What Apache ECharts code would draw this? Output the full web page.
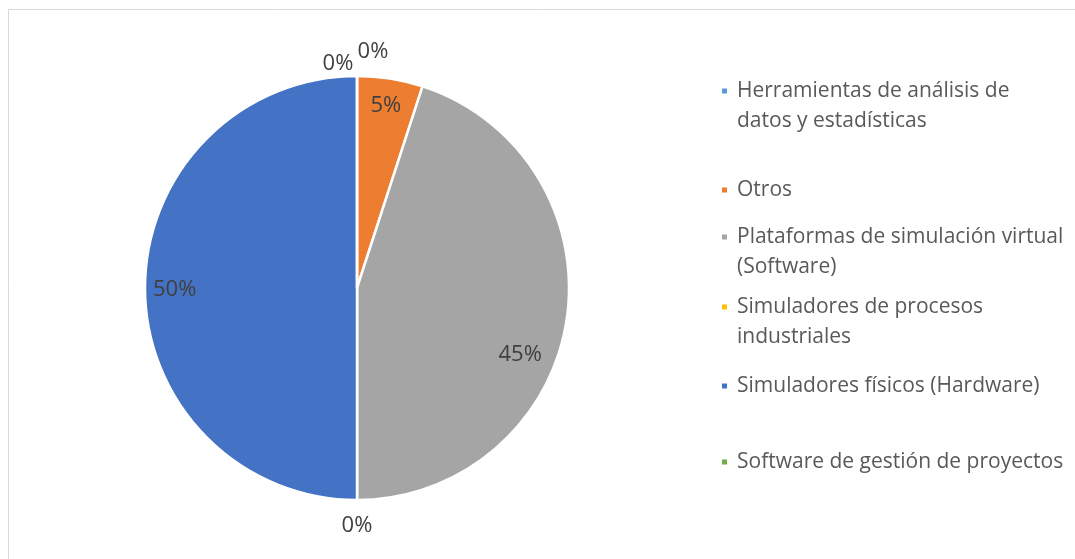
<!DOCTYPE html>
<html>
<head>
<meta charset="utf-8">
<script src="https://cdn.jsdelivr.net/npm/echarts@6/dist/echarts.min.js"></script>
<style>
  html, body { margin: 0; padding: 0; background: #ffffff; }
  #chart { width: 1075px; height: 559px; }
</style>
</head>
<body>
<div id="chart"></div>
<script>
// Herramientas tecnológicas usadas en la formación (porcentaje de respuestas)
const categories = [
  'Herramientas de análisis de\ndatos y estadísticas',
  'Otros',
  'Plataformas de simulación virtual\n(Software)',
  'Simuladores de procesos\nindustriales',
  'Simuladores físicos (Hardware)',
  'Software de gestión de proyectos'
];
const percentages = [0, 5, 45, 0, 50, 0];
const sliceColors = ['#5B9BD5', '#ED7D31', '#A5A5A5', '#FFC000', '#4472C4', '#70AD47'];

// Pie geometry
const CX = 357, CY = 288, R = 212;
const FONT = 'Open Sans, Noto Sans, sans-serif';
const LINE = 30;

// Label placement: radius as fraction of R, angle shift (deg), pixel nudge
const labelPlace = [
  { rf: 1.115, da: 0, dx: 16, dy: 0 },
  { rf: 0.87, da: 0, dx: 0, dy: 0 },
  { rf: 0.83, da: 13, dx: 0, dy: 1 },
  { rf: 1.115, da: 0, dx: 0, dy: 1 },
  { rf: 0.86, da: 0, dx: 0, dy: 2 },
  { rf: 1.06, da: 0, dx: -19, dy: 0 }
];

// Legend rows: vertical centre of each marker
const legendRowY = [91, 190, 237, 307, 386, 462];

const total = percentages.reduce((a, b) => a + b, 0);
const midAngles = [];
let acc = 0;
percentages.forEach(v => {
  midAngles.push((acc + v / 2) / total * 360);
  acc += v;
});

// One legend block per entry; two-line names get a leading blank line so
// the first line sits level with the marker.
const legends = categories.map((name, i) => {
  const lines = name.split('\n').length;
  const h = lines === 2 ? 3 * LINE : LINE;
  return {
    data: [name],
    orient: 'vertical',
    left: 720,
    top: legendRowY[i] - h / 2,
    padding: 0,
    itemWidth: 7,
    itemHeight: 7,
    itemGap: 0,
    icon: 'rect',
    selectedMode: false,
    formatter: n => (n.indexOf('\n') >= 0 ? '\n' + n : n),
    textStyle: {
      fontFamily: FONT,
      fontSize: 21,
      color: '#595959',
      lineHeight: LINE,
      padding: [0, 0, 0, 4]
    }
  };
});

const chart = echarts.init(document.getElementById('chart'), null, { renderer: 'canvas' });
chart.setOption({
  backgroundColor: '#ffffff',
  animation: false,
  color: sliceColors,
  graphic: [{
    type: 'rect',
    shape: { x: 8.5, y: 9.5, width: 1200, height: 700 },
    style: { fill: 'none', stroke: '#d9d9d9', lineWidth: 1 },
    silent: true
  }],
  legend: legends,
  series: [{
    type: 'pie',
    center: [CX, CY],
    radius: R,
    startAngle: 90,
    clockwise: true,
    avoidLabelOverlap: false,
    itemStyle: { borderColor: '#ffffff', borderWidth: 2.5 },
    label: {
      show: true,
      formatter: p => p.value + '%',
      fontFamily: FONT,
      fontSize: 22,
      color: '#404040'
    },
    labelLine: { show: false },
    labelLayout: p => {
      const k = labelPlace[p.dataIndex];
      const a = (midAngles[p.dataIndex] + k.da) * Math.PI / 180;
      return {
        x: CX + Math.sin(a) * R * k.rf + k.dx,
        y: CY - Math.cos(a) * R * k.rf + k.dy,
        align: 'center',
        verticalAlign: 'middle'
      };
    },
    emphasis: { disabled: true },
    data: categories.map((name, i) => ({ name, value: percentages[i] }))
  }]
});
</script>
</body>
</html>
